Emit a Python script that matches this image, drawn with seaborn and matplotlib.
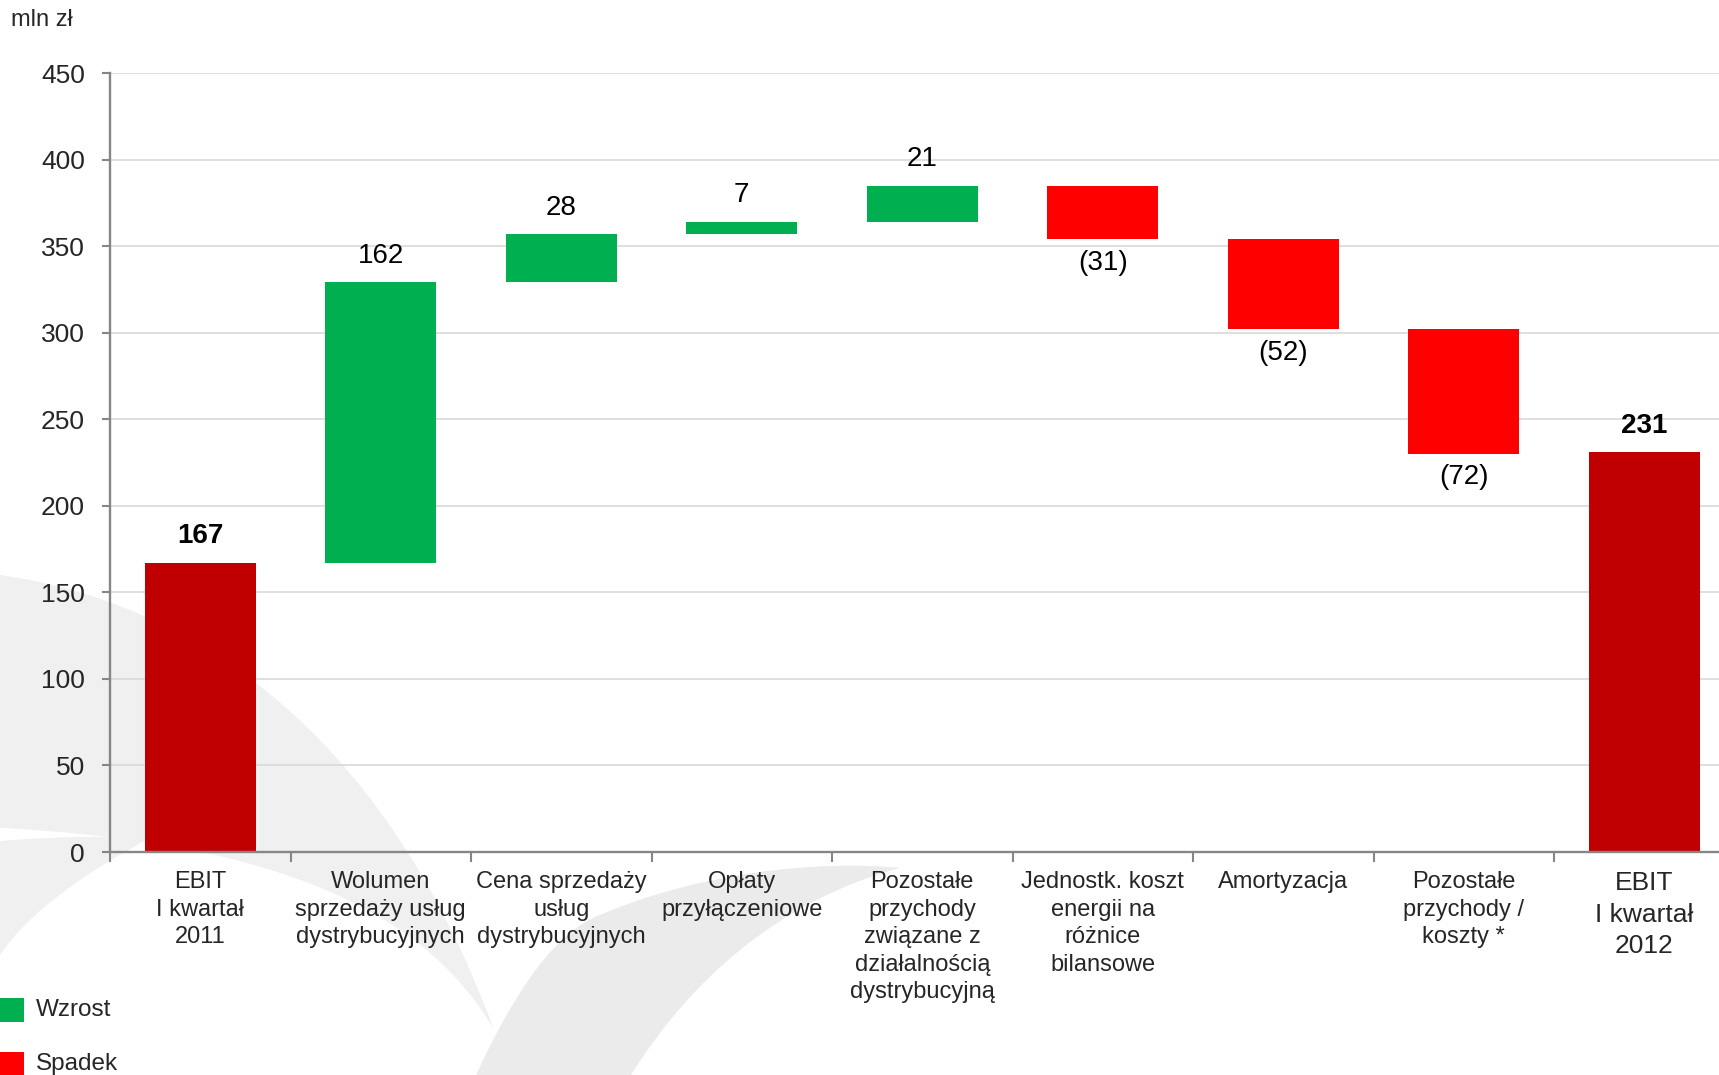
import numpy as np
import pandas as pd
import matplotlib
matplotlib.use("Agg")
import matplotlib.pyplot as plt
import seaborn as sns
from matplotlib.patches import Rectangle, PathPatch
from matplotlib.path import Path

# ---------------- data ----------------
categories = [
    "EBIT\nI kwartał\n2011",
    "Wolumen\nsprzedaży usług\ndystrybucyjnych",
    "Cena sprzedaży\nusług\ndystrybucyjnych",
    "Opłaty\nprzyłączeniowe",
    "Pozostałe\nprzychody\nzwiązane z\ndziałalnością\ndystrybucyjną",
    "Jednostk. koszt\nenergii na\nróżnice\nbilansowe",
    "Amortyzacja",
    "Pozostałe\nprzychody /\nkoszty *",
    "EBIT\nI kwartał\n2012",
]
start_value = 167
changes = [162, 28, 7, 21, -31, -52, -72]
end_value = 231
y_ticks = [0, 50, 100, 150, 200, 250, 300, 350, 400, 450]
legend_labels = ["Wzrost", "Spadek"]
unit_label = "mln zł"

# ---------------- colours ----------------
C_TOTAL = "#C00000"
C_UP = "#00B050"
C_DOWN = "#FF0000"
C_GRID = "#D9D9D9"
C_AXIS = "#868686"
C_WM = "#EEEEEE"

# ---------------- build table ----------------
running = [start_value]
for c in changes:
    running.append(running[-1] + c)
heights = [start_value] + changes + [end_value]
bottoms = [0] + running[:-1] + [0]
kinds = ["total"] + ["up" if c > 0 else "down" for c in changes] + ["total"]
df = pd.DataFrame({"cat": categories, "height": heights, "bottom": bottoms, "kind": kinds})

# ---------------- figure ----------------
sns.set_theme(style="white")
plt.rcParams["font.family"] = ["Liberation Sans", "DejaVu Sans"]

W, H = 1719, 1075
fig = plt.figure(figsize=(W / 100, H / 100), dpi=100)
fig.patch.set_facecolor("white")

# watermark background (light grey swooshes)
bg = fig.add_axes([0, 0, 1, 1], zorder=-10)
bg.set_xlim(0, W)
bg.set_ylim(H, 0)
bg.axis("off")

def swoosh(pts, codes, col=C_WM):
    bg.add_patch(PathPatch(Path(pts, codes), facecolor=col, edgecolor="none"))

M, C4, L, CL = Path.MOVETO, Path.CURVE4, Path.LINETO, Path.CLOSEPOLY
# big left crescent
swoosh([(0, 575), (180, 600), (380, 720), (494, 1030),
        (420, 900), (250, 840), (0, 828), (0, 575)],
       [M, C4, C4, C4, C4, C4, C4, CL], "#F0F0F0")
# small lower-left crescent
swoosh([(0, 841), (60, 836), (120, 836), (150, 838),
        (90, 870), (30, 910), (0, 955), (0, 841)],
       [M, C4, C4, C4, C4, C4, C4, CL], "#F0F0F0")
# bottom diagonal band
swoosh([(476, 1075), (520, 980), (560, 930), (600, 915),
        (700, 872), (820, 860), (900, 868),
        (780, 900), (690, 980), (631, 1075), (476, 1075)],
       [M, C4, C4, C4, C4, C4, C4, C4, C4, C4, CL], "#EBEBEB")

# main axes
ax = fig.add_axes([110 / W, 1 - 852 / H, 9 * 180.5 / W, (852 - 73) / H])
ax.set_facecolor("none")

palette = {"total": C_TOTAL, "up": C_UP, "down": C_DOWN}
for kind in ["total", "up", "down"]:
    sub = df[df["kind"] == kind]
    sns.barplot(x=sub["cat"], y=sub["height"], order=categories,
                bottom=sub["bottom"].values, color=palette[kind], saturation=1,
                width=0.615, errorbar=None, linewidth=0, ax=ax, zorder=3)

ax.set_xlim(-0.5, len(categories) - 0.5)
ax.set_ylim(0, 450)
ax.set_yticks(y_ticks)
ax.set_xlabel("")
ax.set_ylabel("")

# grid
ax.yaxis.grid(True, color=C_GRID, linewidth=1.2, zorder=0)
ax.xaxis.grid(False)
ax.set_axisbelow(True)

for s in ["top", "right"]:
    ax.spines[s].set_visible(False)
for s in ["left", "bottom"]:
    ax.spines[s].set_color(C_AXIS)
    ax.spines[s].set_linewidth(1.7)
    ax.spines[s].set_zorder(4)

ax.tick_params(axis="y", which="major", length=6, width=1.5, color=C_AXIS,
               labelsize=19, pad=12, left=True, direction="out")
ax.tick_params(axis="x", which="major", length=0, labelsize=17, pad=14)
ax.set_xticks(np.arange(-0.5, len(categories), 1.0), minor=True)
ax.tick_params(axis="x", which="minor", length=7, width=1.5, color=C_AXIS,
               bottom=True, direction="out")
for lab in ax.get_xticklabels():
    lab.set_linespacing(1.32)
last = ax.get_xticklabels()[-1]
last.set_fontsize(19)
last.set_linespacing(1.38)

# value labels
for i, (h, b, k) in enumerate(zip(heights, bottoms, kinds)):
    if k == "total":
        ax.annotate(f"{h:d}", xy=(i, b + h), xytext=(0, 14), textcoords="offset points",
                    ha="center", va="baseline", fontsize=20, fontweight="bold", color="black")
    elif k == "up":
        ax.annotate(f"{h:d}", xy=(i, b + h), xytext=(0, 14), textcoords="offset points",
                    ha="center", va="baseline", fontsize=20, color="black")
    else:
        ax.annotate(f"({abs(h):d})", xy=(i, b + h), xytext=(0, -22), textcoords="offset points",
                    ha="center", va="baseline", fontsize=20, color="black")

# unit label
fig.text(11 / W, 1 - 20 / H, unit_label, fontsize=17, ha="left", va="center")

# legend (manual)
for j, (lbl, col) in enumerate(zip(legend_labels, [C_UP, C_DOWN])):
    y_top = 998 + j * 54
    fig.patches.append(Rectangle((0, 1 - (y_top + 24) / H), 24 / W, 24 / H,
                                 transform=fig.transFigure, facecolor=col, edgecolor="none"))
    fig.text(36 / W, 1 - (y_top + 12) / H, lbl, fontsize=17.5, ha="left", va="center")

fig.savefig("out.png", dpi=100, facecolor="white")
